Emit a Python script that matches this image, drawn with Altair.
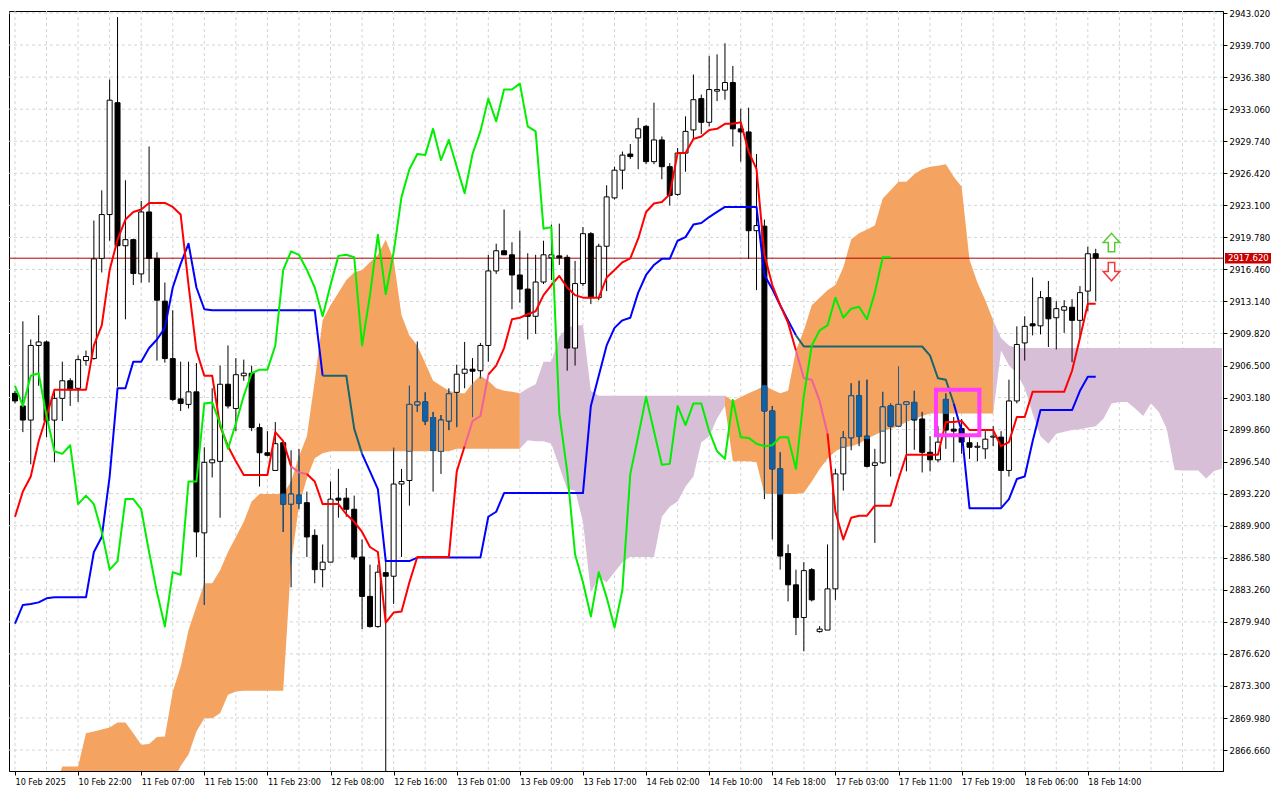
import json
import numpy as np
import pandas as pd
import altair as alt

# ---------------- data ----------------
x_labels = ["10 Feb 2025", "10 Feb 22:00", "11 Feb 07:00", "11 Feb 15:00", "11 Feb 23:00",
            "12 Feb 08:00", "12 Feb 16:00", "13 Feb 01:00", "13 Feb 09:00", "13 Feb 17:00",
            "14 Feb 02:00", "14 Feb 10:00", "14 Feb 18:00", "17 Feb 03:00", "17 Feb 11:00",
            "17 Feb 19:00", "18 Feb 06:00", "18 Feb 14:00"]
label_bars = [0, 8, 16, 24, 32, 40, 48, 56, 64, 72, 80, 88, 96, 104, 112, 120, 128, 136]
grid_bars = [0, 4, 8, 12, 16, 20, 24, 28, 32, 36, 40, 44, 48, 52, 56, 60, 64, 68, 72, 76,
             80, 84, 88, 92, 96, 100, 104, 108, 112, 116, 120, 124, 128, 132, 136, 140,
             144, 148, 152]
y_ticks = [2866.66, 2869.98, 2873.30, 2876.62, 2879.94, 2883.26, 2886.58, 2889.90,
           2893.22, 2896.54, 2899.86, 2903.18, 2906.50, 2909.82, 2913.14, 2916.46,
           2919.78, 2923.10, 2926.42, 2929.74, 2933.06, 2936.38, 2939.70, 2943.02]

opens = [2903.62, 2902.31, 2900.85, 2908.58, 2908.94, 2900.85, 2903.10, 2904.92, 2904.14, 2907.01,
         2907.22, 2917.60, 2922.14, 2933.73, 2918.91, 2919.54, 2915.99, 2922.41, 2917.60, 2913.17,
         2907.22, 2903.04, 2902.47, 2903.77, 2889.16, 2896.42, 2896.57, 2904.56, 2902.05, 2905.44,
         2905.70, 2900.07, 2897.46, 2895.63, 2898.50, 2892.14, 2893.07, 2892.29, 2888.90, 2885.35,
         2886.13, 2892.76, 2892.76, 2891.61, 2886.66, 2882.58, 2879.45, 2885.04, 2884.67, 2894.22,
         2894.59, 2902.42, 2902.73, 2901.11, 2897.61, 2900.75, 2903.72, 2905.70, 2906.12, 2905.96,
         2908.58, 2916.30, 2918.39, 2917.97, 2915.88, 2914.42, 2911.60, 2915.15, 2917.66, 2917.86,
         2917.71, 2908.31, 2914.99, 2920.16, 2913.53, 2918.86, 2923.87, 2926.74, 2928.41, 2930.08,
         2931.28, 2927.62, 2929.87, 2927.10, 2924.23, 2928.51, 2930.91, 2934.15, 2931.70, 2934.93,
         2935.03, 2935.82, 2931.02, 2930.70, 2920.47, 2920.94, 2901.79, 2895.79, 2887.02, 2883.78,
         2880.39, 2885.35, 2878.93, 2879.09, 2883.36, 2895.27, 2899.02, 2903.36, 2899.18, 2896.15,
         2896.42, 2902.31, 2900.22, 2902.47, 2902.68, 2900.96, 2897.51, 2896.73, 2902.99, 2899.91,
         2899.96, 2898.50, 2898.03, 2897.87, 2899.08, 2899.08, 2895.63, 2902.83, 2908.84, 2910.82,
         2910.61, 2913.53, 2911.45, 2912.23, 2912.54, 2911.18, 2914.21, 2918.08]
highs = [2903.88, 2911.08, 2909.20, 2911.71, 2909.10, 2903.88, 2906.90, 2905.18, 2907.53, 2908.05,
         2921.52, 2924.65, 2936.13, 2942.60, 2925.69, 2919.64, 2923.55, 2929.19, 2918.23, 2915.10,
         2912.23, 2906.90, 2906.90, 2906.75, 2898.03, 2904.14, 2906.49, 2908.58, 2907.27, 2907.11,
         2906.49, 2900.49, 2899.70, 2900.64, 2898.66, 2897.72, 2897.87, 2893.44, 2889.53, 2887.96,
         2894.48, 2895.79, 2893.81, 2893.02, 2888.48, 2885.87, 2885.87, 2886.39, 2897.98, 2895.79,
         2904.40, 2908.99, 2903.72, 2901.69, 2901.37, 2904.14, 2906.59, 2908.94, 2907.27, 2908.84,
         2917.97, 2919.12, 2922.67, 2919.27, 2920.47, 2918.13, 2917.97, 2919.43, 2921.10, 2921.20,
         2917.97, 2917.34, 2920.84, 2920.32, 2919.12, 2925.17, 2927.10, 2928.67, 2929.45, 2932.16,
         2931.43, 2933.73, 2930.23, 2927.47, 2929.03, 2932.32, 2936.65, 2934.57, 2938.58, 2938.74,
         2939.89, 2937.54, 2933.10, 2933.21, 2928.41, 2921.62, 2902.31, 2897.51, 2887.96, 2885.35,
         2886.13, 2885.51, 2879.50, 2887.96, 2895.79, 2899.70, 2904.66, 2904.92, 2905.03, 2897.87,
         2903.77, 2902.57, 2906.38, 2902.73, 2903.88, 2901.69, 2899.18, 2900.22, 2903.62, 2901.16,
         2900.96, 2899.08, 2898.56, 2899.70, 2900.22, 2899.70, 2905.03, 2910.56, 2911.60, 2915.62,
         2914.21, 2915.26, 2913.17, 2913.27, 2913.38, 2914.73, 2918.80, 2918.59]
lows = [2902.57, 2899.60, 2896.26, 2904.40, 2899.08, 2896.47, 2900.75, 2902.31, 2902.73, 2906.49,
        2907.11, 2916.14, 2919.43, 2904.30, 2911.29, 2914.84, 2915.10, 2915.10, 2907.01, 2906.80,
        2902.83, 2901.79, 2902.05, 2886.66, 2881.70, 2894.90, 2890.73, 2902.05, 2899.70, 2904.92,
        2899.70, 2893.96, 2897.09, 2895.63, 2889.26, 2883.52, 2891.61, 2886.66, 2883.94, 2883.52,
        2886.13, 2890.73, 2890.83, 2886.39, 2879.19, 2879.35, 2879.35, 2863.95, 2881.80, 2886.66,
        2891.98, 2901.69, 2900.33, 2893.44, 2895.27, 2899.81, 2900.12, 2904.14, 2901.16, 2905.18,
        2906.90, 2915.99, 2917.97, 2912.33, 2913.01, 2909.20, 2909.78, 2914.94, 2915.36, 2916.92,
        2905.96, 2906.49, 2914.73, 2912.86, 2913.27, 2914.21, 2923.71, 2924.75, 2927.89, 2926.84,
        2927.36, 2927.36, 2925.80, 2923.08, 2924.08, 2926.58, 2929.97, 2930.49, 2931.28, 2933.89,
        2934.04, 2929.19, 2927.62, 2917.55, 2914.31, 2892.66, 2888.48, 2885.35, 2882.06, 2878.57,
        2876.89, 2882.06, 2878.83, 2879.09, 2882.22, 2893.54, 2897.72, 2898.14, 2895.95, 2888.12,
        2896.31, 2895.00, 2900.22, 2895.53, 2897.77, 2895.42, 2895.53, 2896.47, 2897.87, 2896.47,
        2897.35, 2896.83, 2896.57, 2896.83, 2898.14, 2891.87, 2895.00, 2902.57, 2907.01, 2909.62,
        2909.72, 2908.42, 2908.16, 2909.88, 2906.85, 2909.51, 2912.12, 2913.17]
closes = [2902.83, 2900.85, 2908.58, 2908.94, 2900.75, 2903.10, 2904.92, 2903.98, 2907.11, 2907.43,
          2917.55, 2922.14, 2933.99, 2918.91, 2919.54, 2916.04, 2922.41, 2917.60, 2913.27, 2907.22,
          2902.99, 2902.57, 2903.77, 2889.26, 2896.47, 2896.73, 2904.56, 2902.31, 2905.55, 2905.70,
          2900.07, 2897.46, 2897.20, 2898.40, 2892.14, 2893.18, 2892.24, 2888.74, 2885.35, 2886.13,
          2892.66, 2892.55, 2891.61, 2886.66, 2882.58, 2879.45, 2885.09, 2884.67, 2894.22, 2894.48,
          2902.47, 2902.73, 2900.75, 2897.72, 2900.85, 2903.57, 2905.60, 2906.12, 2905.91, 2908.58,
          2916.30, 2918.39, 2917.97, 2915.88, 2914.42, 2911.60, 2915.15, 2917.97, 2917.97, 2917.66,
          2908.31, 2914.99, 2920.16, 2913.53, 2918.86, 2923.97, 2926.74, 2928.30, 2928.15, 2931.02,
          2927.62, 2929.87, 2927.10, 2924.13, 2928.51, 2930.76, 2934.04, 2931.70, 2935.09, 2935.09,
          2935.82, 2931.02, 2930.70, 2920.47, 2921.00, 2901.79, 2895.79, 2886.76, 2883.78, 2880.39,
          2885.25, 2882.22, 2879.19, 2883.36, 2895.27, 2899.02, 2903.36, 2899.18, 2896.05, 2896.42,
          2902.21, 2900.22, 2902.47, 2902.73, 2900.85, 2897.51, 2896.73, 2898.56, 2899.81, 2899.70,
          2898.56, 2898.03, 2898.14, 2898.87, 2899.18, 2895.63, 2902.83, 2908.68, 2910.56, 2910.61,
          2913.53, 2911.34, 2912.39, 2912.59, 2911.18, 2914.05, 2918.08, 2917.62]

tenkan = [2890.83, 2893.44, 2895.00, 2898.66, 2901.27, 2903.98, 2903.98, 2903.98, 2903.98, 2903.98,
          2908.58, 2910.66, 2916.40, 2919.54, 2921.62, 2922.41, 2922.67, 2923.34, 2923.34, 2923.34,
          2922.93, 2922.14, 2914.84, 2908.05, 2905.44, 2905.44, 2900.22, 2898.14, 2896.57, 2895.16,
          2895.16, 2895.16, 2895.16, 2899.60, 2898.66, 2896.05, 2895.42, 2895.27, 2894.48, 2892.14,
          2892.14, 2892.14, 2891.09, 2890.31, 2889.26, 2887.70, 2887.18, 2879.87, 2880.91, 2881.02,
          2884.05, 2886.66, 2886.66, 2886.66, 2886.66, 2886.66, 2895.53, 2898.14, 2900.75, 2901.27,
          2905.55, 2906.49, 2908.31, 2911.29, 2911.45, 2911.81, 2912.12, 2913.79, 2914.84, 2915.78,
          2914.58, 2913.79, 2913.53, 2913.53, 2913.53, 2915.62, 2916.40, 2917.19, 2917.60, 2919.64,
          2922.41, 2923.29, 2923.45, 2924.23, 2928.51, 2928.51, 2929.97, 2930.23, 2930.91, 2931.02,
          2931.54, 2931.54, 2931.70, 2928.67, 2926.84, 2917.97, 2914.84, 2912.75, 2910.92, 2908.05,
          2905.18, 2905.03, 2902.83, 2899.44, 2891.35, 2888.48, 2890.73, 2890.94, 2890.94, 2891.98,
          2891.98, 2891.98, 2894.74, 2897.25, 2897.25, 2897.25, 2897.25, 2897.25, 2900.64, 2900.64,
          2900.75, 2899.81, 2899.81, 2899.81, 2899.81, 2898.14, 2898.56, 2901.16, 2901.16, 2903.77,
          2903.77, 2903.77, 2903.77, 2903.77, 2905.96, 2909.36, 2912.91, 2912.91]
kijun = [2879.77, 2881.70, 2881.80, 2881.96, 2882.38, 2882.48, 2882.48, 2882.48, 2882.48, 2882.48,
         2887.18, 2888.74, 2895.00, 2904.14, 2904.14, 2906.90, 2906.90, 2908.31, 2909.20, 2910.40,
         2914.58, 2917.03, 2919.12, 2914.58, 2912.33, 2912.23, 2912.23, 2912.23, 2912.23, 2912.23,
         2912.23, 2912.23, 2912.23, 2912.23, 2912.23, 2912.23, 2912.23, 2912.23, 2912.23, 2905.44,
         2905.44, 2905.44, 2905.44, 2899.96, 2897.35, 2895.53, 2893.70, 2886.24, 2886.24, 2886.24,
         2886.24, 2886.60, 2886.60, 2886.60, 2886.60, 2886.60, 2886.60, 2886.60, 2886.60, 2886.60,
         2890.83, 2891.35, 2893.28, 2893.28, 2893.28, 2893.28, 2893.28, 2893.28, 2893.28, 2893.28,
         2893.28, 2893.28, 2893.28, 2902.31, 2905.44, 2908.58, 2910.40, 2911.18, 2911.45, 2914.05,
         2915.88, 2916.92, 2917.55, 2917.55, 2919.43, 2919.80, 2921.10, 2921.26, 2921.88, 2922.41,
         2922.93, 2922.93, 2922.93, 2922.93, 2922.93, 2915.88, 2914.42, 2912.75, 2911.18, 2909.62,
         2908.47, 2908.47, 2908.47, 2908.47, 2908.47, 2908.47, 2908.47, 2908.47, 2908.47, 2908.47,
         2908.47, 2908.47, 2908.47, 2908.47, 2908.47, 2908.47, 2907.53, 2905.18, 2905.03, 2902.57,
         2899.70, 2891.72, 2891.72, 2891.72, 2891.72, 2891.72, 2892.66, 2894.74, 2895.00, 2898.66,
         2901.89, 2901.89, 2901.89, 2901.89, 2901.89, 2903.88, 2905.34, 2905.34]
chikou = [2904.40, 2902.31, 2905.44, 2905.70, 2901.27, 2897.61, 2897.35, 2898.24, 2892.14, 2893.02,
          2892.14, 2889.26, 2885.35, 2886.24, 2892.66, 2892.66, 2891.61, 2887.18, 2883.00, 2879.45,
          2885.09, 2884.83, 2894.48, 2894.48, 2902.57, 2902.68, 2900.49, 2897.87, 2900.49, 2903.36,
          2905.70, 2906.07, 2906.07, 2908.58, 2916.40, 2918.33, 2917.97, 2916.40, 2914.58, 2911.60,
          2914.84, 2917.86, 2917.97, 2917.71, 2908.58, 2913.79, 2920.06, 2913.90, 2918.23, 2923.97,
          2926.84, 2928.41, 2928.30, 2931.02, 2927.78, 2929.87, 2927.10, 2924.34, 2928.41, 2930.76,
          2934.15, 2931.80, 2935.09, 2935.09, 2935.71, 2931.28, 2930.76, 2920.68, 2920.84, 2901.53,
          2895.53, 2886.92, 2884.05, 2880.50, 2885.09, 2882.48, 2879.35, 2883.26, 2895.27, 2899.18,
          2903.25, 2899.70, 2896.21, 2896.31, 2902.31, 2900.33, 2902.57, 2902.57, 2899.70, 2897.61,
          2896.83, 2902.94, 2899.08, 2899.00, 2898.40, 2898.14, 2898.24, 2899.08, 2899.08, 2895.79,
          2903.36, 2908.58, 2910.14, 2910.66, 2913.53, 2911.45, 2912.39, 2912.59, 2911.29, 2914.05,
          2917.71, 2917.71]

cloud_start = 5  # first bar of the visible Kumo
span_a = [2862.50, 2864.96, 2864.96, 2864.96, 2868.41, 2868.58, 2868.80, 2869.00, 2869.52, 2869.52,
          2868.41, 2867.20, 2867.30, 2868.00, 2868.07, 2872.73, 2875.30, 2879.10, 2881.54, 2883.95,
          2883.95, 2885.30, 2887.18, 2888.74, 2890.31, 2892.40, 2893.18, 2893.18, 2893.18, 2893.18,
          2894.48, 2897.09, 2899.18, 2904.92, 2911.18, 2912.75, 2914.05, 2915.36, 2916.14, 2916.40,
          2917.19, 2917.97, 2919.54, 2917.45, 2911.71, 2909.62, 2908.58, 2906.75, 2904.92, 2904.40,
          2903.88, 2903.62, 2903.62, 2904.66, 2905.44, 2904.92, 2904.14, 2903.88, 2903.77, 2903.62,
          2898.76, 2898.66, 2898.66, 2898.40, 2896.05, 2893.70, 2893.54, 2890.31, 2883.00, 2884.57,
          2884.05, 2885.09, 2886.13, 2886.66, 2886.66, 2886.66, 2886.66, 2890.83, 2891.87, 2892.40,
          2893.96, 2895.00, 2898.56, 2899.18, 2901.01, 2902.31,
          2902.83, 2903.25, 2903.62, 2903.98, 2904.40, 2903.98, 2903.62, 2903.88, 2908.05, 2910.14,
          2912.75, 2913.53, 2914.31, 2914.84, 2916.66, 2919.58, 2920.21, 2920.58, 2921.00, 2923.81,
          2924.65, 2925.54, 2925.54, 2926.32, 2926.84, 2927.10, 2927.20, 2927.36, 2926.06, 2925.01,
          2917.45, 2915.10, 2913.27, 2911.18,
          2908.05, 2906.49, 2905.70, 2904.14, 2901.53, 2899.18, 2898.40, 2899.44, 2899.65, 2899.81,
          2899.91, 2900.07, 2900.22, 2901.01, 2902.57, 2902.73, 2902.73, 2902.05, 2901.27, 2902.57,
          2901.69, 2899.96, 2895.68, 2895.63, 2895.63, 2895.63, 2894.79, 2895.58, 2895.80]
span_b = [2858.00, 2858.00, 2858.00, 2858.00, 2858.00, 2858.00, 2858.00, 2858.00, 2859.00, 2859.00,
          2859.00, 2859.50, 2860.00, 2860.50, 2861.00, 2863.33, 2865.00, 2866.20, 2868.58, 2869.96,
          2869.96, 2870.48, 2872.38, 2872.73, 2872.80, 2872.80, 2872.80, 2872.80, 2872.80, 2872.80,
          2886.00, 2892.00, 2894.80, 2896.90, 2897.40, 2897.61, 2897.61, 2897.61, 2897.61, 2897.61,
          2897.61, 2897.61, 2897.61, 2897.61, 2897.61, 2897.61, 2897.61, 2897.61, 2897.61, 2897.61,
          2897.61, 2897.87, 2897.87, 2897.87, 2897.87, 2897.87, 2897.87, 2897.87, 2897.87, 2897.87,
          2904.14, 2904.56, 2906.90, 2906.90, 2909.51, 2910.40, 2910.66, 2910.66, 2903.88, 2903.36,
          2903.36, 2903.36, 2903.36, 2903.36, 2903.36, 2903.36, 2903.36, 2903.36, 2903.36, 2903.36,
          2903.36, 2903.36, 2903.36, 2903.36, 2903.36, 2903.36,
          2896.57, 2896.57, 2896.57, 2896.47, 2893.18, 2893.18, 2893.18, 2893.18, 2893.18, 2893.33,
          2894.48, 2895.79, 2896.83, 2897.61, 2898.03, 2898.14, 2898.40, 2898.92, 2899.29, 2899.70,
          2899.96, 2900.22, 2900.64, 2900.96, 2901.27, 2901.53, 2901.53, 2901.53, 2901.53, 2901.53,
          2901.53, 2901.53, 2901.53, 2901.53,
          2909.36, 2908.58, 2908.31, 2908.31, 2908.31, 2908.31, 2908.31, 2908.31, 2908.31, 2908.31,
          2908.31, 2908.31, 2908.31, 2908.31, 2908.31, 2908.31, 2908.31, 2908.31, 2908.31, 2908.31,
          2908.31, 2908.31, 2908.31, 2908.31, 2908.31, 2908.31, 2908.31, 2908.31, 2908.31]

last_price = 2917.62
signal_box_bars = [116.75, 122.25]
signal_box_prices = [2903.98, 2899.28]
arrow_bar = 139
arrow_up_price = 2919.24
arrow_down_price = 2916.23

# ---------------- styling ----------------
FONT = "DejaVu Sans Condensed, Liberation Sans"
ORANGE = "#f4a460"
PURPLE = "#d8bfd8"
CANDLE_IN = "#1560a0"
RED, PINK = "#ff0000", "#f0609e"
BLUE, TEAL = "#0000ff", "#1a6470"
GREEN = "#00ee00"

PLOT_W, PLOT_H = 1214, 760
X_DOMAIN = [-0.125, 152.5]
Y_DOMAIN = [2864.49, 2943.23]
xs = alt.Scale(domain=X_DOMAIN, nice=False, zero=False)
ys = alt.Scale(domain=Y_DOMAIN, nice=False, zero=False)

x_axis = alt.Axis(values=label_bars, labelExpr=f"{json.dumps(x_labels)}[round(datum.value / 8)]",
                  orient="bottom", grid=False, tickSize=4, tickColor="black", domainColor="black",
                  labelAlign="left", labelBaseline="top", labelPadding=2, labelFont=FONT,
                  labelFontSize=9, labelColor="black", labelOverlap=False, labelFlush=False,
                  title=None)
y_axis = alt.Axis(values=y_ticks, format=".3f", orient="right", grid=False, tickSize=4,
                  tickColor="black", domainColor="black", labelPadding=2, labelFont=FONT,
                  labelFontSize=9.5, labelColor="black", labelOverlap=False, labelFlush=False,
                  labelBaseline="middle", title=None)


def X(field):
    return alt.X(field, type="quantitative", scale=xs, axis=x_axis, title=None)


def Y(field):
    return alt.Y(field, type="quantitative", scale=ys, axis=y_axis, title=None)


# ---------------- derived tables ----------------
sa = np.array(span_a)
sb = np.array(span_b)
cbars = np.arange(cloud_start, cloud_start + len(sa))
c_top = np.maximum(sa, sb)
c_bot = np.minimum(sa, sb)
c_orange = sa >= sb


def cloud_at(i):
    k = int(i) - cloud_start
    if 0 <= k < len(sa):
        return float(c_top[k]), float(c_bot[k]), bool(c_orange[k])
    return None


# cloud runs (one area per colour run)
runs = []
prev = None
for k in range(len(cbars)):
    col = ORANGE if c_orange[k] else PURPLE
    if col != prev:
        runs.append(dict(col=col, rows=[]))
        if k > 0:
            runs[-1]["rows"].append(dict(x=int(cbars[k - 1]), top=float(c_top[k - 1]), bot=float(c_bot[k - 1])))
    runs[-1]["rows"].append(dict(x=int(cbars[k]), top=float(c_top[k]), bot=float(c_bot[k])))
    prev = col

# candles
n = len(opens)
cdf = pd.DataFrame(dict(x=np.arange(n), o=opens, h=highs, l=lows, c=closes))
cdf["up"] = cdf["c"] >= cdf["o"]
cdf["fill"] = np.where(cdf["up"], "white", "black")

wick_in, body_in = [], []
for r in cdf.itertuples():
    cl = cloud_at(r.x)
    if cl is None or not cl[2]:
        continue
    top, bot, _ = cl
    lo, hi = max(r.l, bot), min(r.h, top)
    if hi > lo:
        wick_in.append(dict(x=r.x, lo=lo, hi=hi))
    blo, bhi = max(min(r.o, r.c), bot), min(max(r.o, r.c), top)
    if bhi > blo:
        body_in.append(dict(x=r.x, lo=blo, hi=bhi, fill=ORANGE if r.up else CANDLE_IN))
wick_in_df = pd.DataFrame(wick_in)
body_in_df = pd.DataFrame(body_in)


def line_runs(vals, name, c_out, c_in):
    rows = []
    gid = 0
    prevc = None
    for k in range(len(vals) - 1):
        a, b = cloud_at(k), cloud_at(k + 1)
        inside = False
        if c_in != c_out and a is not None and b is not None and a[2] and b[2]:
            ym = (vals[k] + vals[k + 1]) / 2
            inside = (a[1] + b[1]) / 2 < ym < (a[0] + b[0]) / 2
        col = c_in if inside else c_out
        if col != prevc:
            gid += 1
            rows.append(dict(x=k, y=vals[k], grp=f"{name}{gid}", col=col, ord=k))
        rows.append(dict(x=k + 1, y=vals[k + 1], grp=f"{name}{gid}", col=col, ord=k + 1))
        prevc = col
    return rows


lines_df = pd.DataFrame(
    line_runs(kijun, "kij", BLUE, TEAL)
    + line_runs(tenkan, "ten", RED, PINK)
    + line_runs(chikou, "chi", GREEN, GREEN)
)

grid_x_df = pd.DataFrame(dict(x=grid_bars))
grid_y_df = pd.DataFrame(dict(y=y_ticks))
price_df = pd.DataFrame(dict(y=[last_price], label=[f"{last_price:.3f}"]))
box_df = pd.DataFrame(dict(x=[signal_box_bars[0]], x2=[signal_box_bars[1]],
                           y=[signal_box_prices[0]], y2=[signal_box_prices[1]]))
arrow_df = pd.DataFrame(dict(x=[arrow_bar, arrow_bar], y=[arrow_up_price, arrow_down_price],
                             kind=["up", "down"]))

# ---------------- layers ----------------
layers = []
layers.append(alt.Chart(grid_x_df).mark_rule(color="#d4d4d4", strokeDash=[3, 3], strokeWidth=1)
              .encode(x=X("x")))
layers.append(alt.Chart(grid_y_df).mark_rule(color="#d4d4d4", strokeDash=[3, 3], strokeWidth=1)
              .encode(y=Y("y")))

for run in runs:
    layers.append(alt.Chart(pd.DataFrame(run["rows"]))
                  .mark_area(color=run["col"], opacity=1, clip=True, interpolate="linear")
                  .encode(x=X("x"), y=Y("top"), y2="bot"))

layers.append(alt.Chart(price_df).mark_rule(color="#b00000", strokeWidth=1).encode(y=Y("y")))

layers.append(alt.Chart(cdf).mark_rule(color="black", strokeWidth=1, clip=True)
              .encode(x=X("x"), y=Y("l"), y2="h"))
layers.append(alt.Chart(wick_in_df).mark_rule(color=CANDLE_IN, strokeWidth=1, clip=True)
              .encode(x=X("x"), y=Y("lo"), y2="hi"))
layers.append(alt.Chart(cdf).mark_bar(width=5, stroke="black", strokeWidth=1, clip=True)
              .encode(x=X("x"), y=Y("o"), y2="c", fill=alt.Fill("fill:N", scale=None)))
layers.append(alt.Chart(body_in_df).mark_bar(width=5, stroke=CANDLE_IN, strokeWidth=1, clip=True)
              .encode(x=X("x"), y=Y("lo"), y2="hi", fill=alt.Fill("fill:N", scale=None)))

layers.append(alt.Chart(lines_df).mark_line(strokeWidth=2, clip=True, strokeJoin="round")
              .encode(x=X("x"), y=Y("y"), detail="grp:N",
                      color=alt.Color("col:N", scale=None), order="ord:Q"))

layers.append(alt.Chart(box_df).mark_rect(fillOpacity=0, stroke="#ff3cff", strokeWidth=4)
              .encode(x=X("x"), x2="x2", y=Y("y"), y2="y2"))

UP = "M-0.35,1L-0.35,0L-0.9,0L0,-1L0.9,0L0.35,0L0.35,1Z"
DN = "M-0.35,-1L-0.35,0L-0.9,0L0,1L0.9,0L0.35,0L0.35,-1Z"
layers.append(alt.Chart(arrow_df).transform_filter(alt.datum.kind == "up")
              .mark_point(shape=UP, size=340, filled=True, fill="white", stroke="#55cc33",
                          strokeWidth=1.5, opacity=1)
              .encode(x=X("x"), y=Y("y")))
layers.append(alt.Chart(arrow_df).transform_filter(alt.datum.kind == "down")
              .mark_point(shape=DN, size=340, filled=True, fill="white", stroke="#f03c3c",
                          strokeWidth=1.5, opacity=1)
              .encode(x=X("x"), y=Y("y")))

layers.append(alt.Chart(price_df)
              .mark_point(shape="M-1,-0.23L1,-0.23L1,0.23L-1,0.23Z", size=2116, filled=True,
                          fill="#c80000", strokeWidth=0, opacity=1)
              .encode(x=alt.value(PLOT_W + 25), y=Y("y")))
layers.append(alt.Chart(price_df)
              .mark_text(align="left", baseline="middle", font=FONT, fontSize=9.5, color="white")
              .encode(x=alt.value(PLOT_W + 5), y=Y("y"), text="label:N"))

chart = alt.layer(*layers).properties(
    width=PLOT_W, height=PLOT_H, background="white",
    padding={"left": 0, "top": 0, "right": 0, "bottom": 0},
).configure_view(stroke="black", strokeWidth=1)

chart.save("out.html", embed_options={"renderer": "svg", "actions": False})
